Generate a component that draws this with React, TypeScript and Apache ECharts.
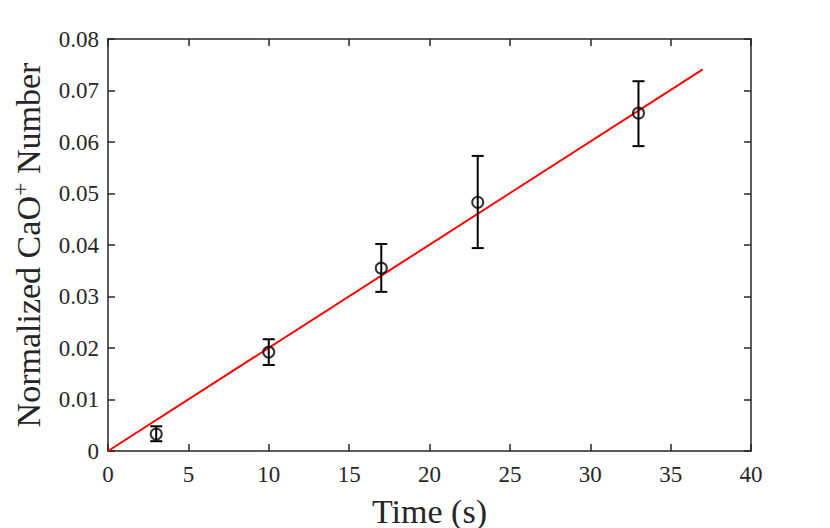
import React, { useEffect, useRef } from "react";
import * as echarts from "echarts";

const times = [3, 10, 17, 23, 33];
const values = [0.0033, 0.0192, 0.0355, 0.0483, 0.0656];
const lowers = [0.0019, 0.0167, 0.0309, 0.0394, 0.0592];
const uppers = [0.0048, 0.0217, 0.0402, 0.0573, 0.0718];
const fitX = [0, 37];
const fitY = [0, 0.0741];

const FONT = "Liberation Serif";
const AXIS_COLOR = "#262626";

export default function App() {
  const ref = useRef<HTMLDivElement>(null);
  useEffect(() => {
    const chart = echarts.init(ref.current!, null, { renderer: "svg" });
    const errData = times.map((t, i) => [t, lowers[i], uppers[i]]);
    const common = {
      axisLine: { show: true, onZero: false, lineStyle: { color: AXIS_COLOR, width: 1.5 } },
      axisTick: { show: true, inside: true, length: 7, lineStyle: { color: AXIS_COLOR, width: 1.5 } },
      splitLine: { show: false },
    };
    chart.setOption({
      animation: false,
      grid: { left: 100, right: 79, top: 31, bottom: 77, containLabel: false, outerBoundsMode: "none" },
      xAxis: [
        {
          type: "value",
          min: 0,
          max: 40,
          interval: 5,
          ...common,
          axisLabel: { fontFamily: FONT, fontSize: 23, color: AXIS_COLOR, margin: 12 },
          name: "Time (s)",
          nameLocation: "middle",
          nameGap: 43,
          nameTextStyle: { fontFamily: FONT, fontSize: 34, color: AXIS_COLOR },
        },
        {
          type: "value",
          position: "top",
          min: 0,
          max: 40,
          interval: 5,
          ...common,
          axisLabel: { show: false },
        },
      ],
      yAxis: [
        {
          type: "value",
          min: 0,
          max: 0.08,
          interval: 0.01,
          ...common,
          axisLabel: { fontFamily: FONT, fontSize: 23, color: AXIS_COLOR, margin: 9 },
          name: "Normalized CaO{sup|+} Number",
          nameLocation: "middle",
          nameGap: 60,
          nameTextStyle: {
            fontFamily: FONT,
            fontSize: 34,
            color: AXIS_COLOR,
            rich: {
              sup: { fontFamily: FONT, fontSize: 24, color: AXIS_COLOR, padding: [0, 0, 16, 0] },
            },
          },
        },
        {
          type: "value",
          position: "right",
          min: 0,
          max: 0.08,
          interval: 0.01,
          ...common,
          axisLabel: { show: false },
        },
      ],
      series: [
        {
          type: "line",
          data: fitX.map((x, i) => [x, fitY[i]]),
          showSymbol: false,
          symbol: "none",
          lineStyle: { color: "#ff0000", width: 2 },
          z: 3,
        },
        {
          type: "custom",
          data: errData,
          renderItem: (params: any, api: any) => {
            const x = api.value(0);
            const lo = api.coord([x, api.value(1)]);
            const hi = api.coord([x, api.value(2)]);
            const cap = 6;
            const style = { stroke: "#000", lineWidth: 2 };
            return {
              type: "group",
              children: [
                { type: "line", shape: { x1: lo[0], y1: lo[1], x2: hi[0], y2: hi[1] }, style },
                { type: "line", shape: { x1: lo[0] - cap, y1: lo[1], x2: lo[0] + cap, y2: lo[1] }, style },
                { type: "line", shape: { x1: hi[0] - cap, y1: hi[1], x2: hi[0] + cap, y2: hi[1] }, style },
              ],
            };
          },
          z: 4,
        },
        {
          type: "scatter",
          data: times.map((t, i) => [t, values[i]]),
          symbol: "circle",
          symbolSize: 11,
          itemStyle: { color: "rgba(0,0,0,0)", borderColor: "#000", borderWidth: 2 },
          z: 5,
        },
      ],
    });
    return () => chart.dispose();
  }, []);
  return <div ref={ref} style={{ width: 822, height: 520 }} />;
}
